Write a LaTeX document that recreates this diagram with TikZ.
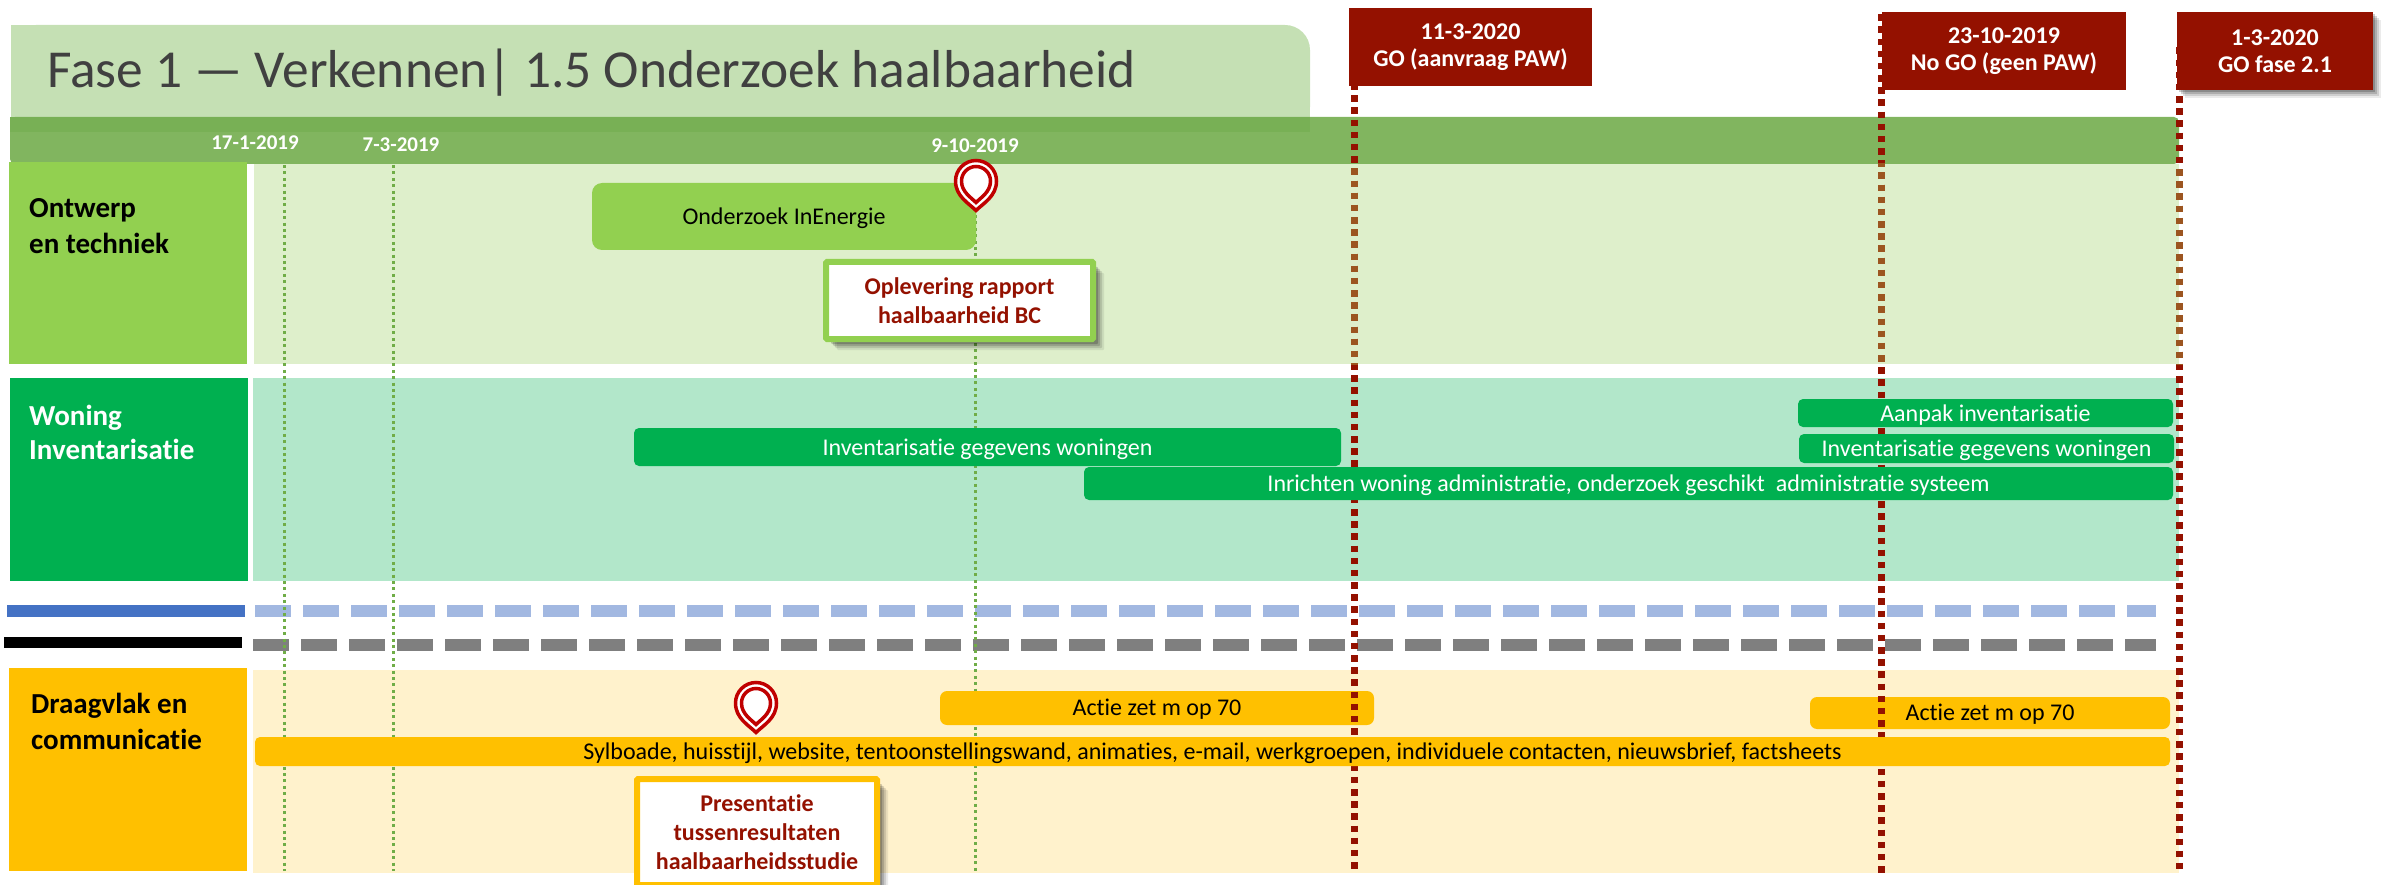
\documentclass[tikz,border=0pt]{standalone}
\usepackage{fontspec}
\setmainfont[Ligatures=NoCommon]{Carlito}
\usetikzlibrary{shadows}
\definecolor{titleband}{HTML}{C5E0B4}
\definecolor{darkband}{HTML}{81B55F}
\definecolor{overlapband}{HTML}{78B055}
\definecolor{lightgreen}{HTML}{DEEFCB}
\definecolor{midgreen}{HTML}{92D050}
\definecolor{lightteal}{HTML}{B2E7CA}
\definecolor{teal}{HTML}{00B050}
\definecolor{cream}{HTML}{FFF2CC}
\definecolor{amber}{HTML}{FFC000}
\definecolor{blueA}{HTML}{4472C4}
\definecolor{blueB}{HTML}{A2B8E1}
\definecolor{grayB}{HTML}{7F7F7F}
\definecolor{darkred}{HTML}{941100}
\definecolor{brownred}{HTML}{9C5520}
\definecolor{pinred}{HTML}{C00000}
\definecolor{dotgreen}{HTML}{70AD47}
\definecolor{titletext}{HTML}{404040}
\newcommand{\fs}[1]{\fontsize{#1}{#1}\selectfont}
% \rectnode{name}{x1}{y1}{x2}{y2}{style}{text}
\newcommand{\rectnode}[7]{%
  \pgfmathsetlengthmacro{\rw}{(#4)-(#2)}%
  \pgfmathsetlengthmacro{\rh}{(#5)-(#3)}%
  \node[#6,minimum width=\rw,minimum height=\rh,anchor=north west] (#1) at (#2,#3) {#7};}
% \pinpath{cx}{top}{r}{h}
\newcommand{\pinpath}[4]{%
  (#1,#2+#4) .. controls (#1-0.35*#3,#2+#4-0.35*#3) and (#1-#3,#2+1.75*#3) .. (#1-#3,#2+#3)
  .. controls (#1-#3,#2+0.45*#3) and (#1-0.55*#3,#2) .. (#1,#2)
  .. controls (#1+0.55*#3,#2) and (#1+#3,#2+0.45*#3) .. (#1+#3,#2+#3)
  .. controls (#1+#3,#2+1.75*#3) and (#1+0.35*#3,#2+#4-0.35*#3) .. (#1,#2+#4) -- cycle}
\newcommand{\pinmark}[2]{%
  \draw[pinout] \pinpath{#1}{#2+1.5}{20.5}{50};
  \draw[pinin] \pinpath{#1}{#2+7.5}{14.5}{36};}
\tikzset{
  plain/.style={rectangle,inner sep=0pt,outer sep=0pt,text=black},
  bar/.style={plain,rounded corners=5pt,align=center,text depth=-1.5pt},
  lbl/.style={font=\fs{29}\bfseries,anchor=base west,inner sep=0pt},
  datelbl/.style={font=\fs{21}\bfseries,text=white,inner sep=0pt},
  barfont/.style={font=\fs{24}},
  redbox/.style={plain,fill=darkred,text=white,align=center,font=\fs{24}\bfseries},
  notebox/.style={plain,fill=white,line width=6pt,text=darkred,align=center,
    font=\fs{24}\bfseries,rounded corners=1pt},
  softshadow/.style={
    drop shadow={shadow xshift=#1+6pt,shadow yshift=-#1-6pt,opacity=.08,fill=black},
    drop shadow={shadow xshift=#1+4pt,shadow yshift=-#1-4pt,opacity=.12,fill=black},
    drop shadow={shadow xshift=#1+2pt,shadow yshift=-#1-2pt,opacity=.16,fill=black},
    drop shadow={shadow xshift=#1,shadow yshift=-#1,opacity=.2,fill=black}},
  greendots/.style={draw=dotgreen,line width=3pt,dash pattern=on 3pt off 3.4pt},
  reddots/.style={draw=darkred,line width=7pt,dash pattern=on 6.5pt off 5.67pt},
  pinout/.style={draw=pinred,fill=white,line width=3.5pt,line join=miter},
  pinin/.style={draw=pinred,fill=white,line width=3.5pt,line join=miter},
}
\begin{document}
\begin{tikzpicture}[x=1pt,y=-1pt]
\useasboundingbox (0,0) rectangle (2389,885);
\clip (0,0) rectangle (2389,885);

% title and header
\fill[titleband,rounded corners=25pt] (11,25) -- (1310,25) -- (1310,132) -- (11,132) -- cycle;
\fill[titleband] (11,25) rectangle (60,132);
\fill[titleband] (1240,100) rectangle (1310,132);
\node[anchor=base west,inner sep=0pt,text=titletext,font=\fs{53.4}] (title) at (47,88)
  {Fase 1 — Verkennen| 1.5 Onderzoek haalbaarheid};
\fill[darkband,rounded corners=5pt] (10,117) -- (2179,117) -- (2179,164) -- (10,164) -- cycle;
\fill[overlapband] (10,117) rectangle (1310,132);

% section backgrounds
\fill[lightgreen] (254,164) rectangle (2179,364);
\fill[lightteal] (253,378) rectangle (2179,581);
\fill[cream] (253,670) rectangle (2179,873);

% section heads
\rectnode{ontwerp}{9}{162}{247}{364}{plain,fill=midgreen}{}
\rectnode{woning}{10}{378}{248}{581}{plain,fill=teal}{}
\rectnode{draag}{9}{668}{247}{871}{plain,fill=amber}{}
\node[lbl,text=black] (ontA) at (29,218) {Ontwerp};
\node[lbl,text=black] (ontB) at (29,254) {en techniek};
\node[lbl,text=white] (wonA) at (29,425) {Woning};
\node[lbl,text=white] (wonB) at (29,459) {Inventarisatie};
\node[lbl,text=black] (draA) at (31,713) {Draagvlak en};
\node[lbl,text=black] (draB) at (31,749) {communicatie};

% coloured rules
\rectnode{blueRule}{7}{605}{245}{617}{plain,fill=blueA}{}
\rectnode{blackRule}{4}{637}{242}{648}{plain,fill=black}{}
\foreach \i in {0,...,39}{
  \pgfmathsetmacro{\xa}{255+48*\i}
  \pgfmathsetmacro{\xb}{min(\xa+36,2156)}
  \fill[blueB] (\xa,605) rectangle (\xb,617);
  \pgfmathsetmacro{\xc}{253+48*\i}
  \pgfmathsetmacro{\xd}{min(\xc+36,2156)}
  \fill[grayB] (\xc,639) rectangle (\xd,651);
}

% date labels
\node[datelbl] (d1) at (255,143) {17-1-2019};
\node[datelbl] (d2) at (401,145) {7-3-2019};
\node[datelbl] (d3) at (975,146) {9-10-2019};

% green dotted lines
\coordinate (g1t) at (284,165); \coordinate (g1b) at (284,871);
\coordinate (g2t) at (393,165); \coordinate (g2b) at (393,871);
\coordinate (g3t) at (975,183); \coordinate (g3b) at (975,871);
\draw[greendots] (g1t) -- (g1b);
\draw[greendots] (g2t) -- (g2b);
\draw[greendots] (g3t) -- (g3b);

% amber bars below the red lines
\rectnode{barActieL}{940}{691}{1374}{725}{bar,fill=amber,rounded corners=7pt}{}
\rectnode{barActieR}{1810}{697}{2170}{729}{bar,fill=amber,rounded corners=7pt}{}

% red dotted lines
\coordinate (r1t) at (1354,83.15); \coordinate (r1b) at (1354,869);
\coordinate (r2t) at (1881,14.25); \coordinate (r2b) at (1881,873);
\coordinate (r3t) at (2179,47.45); \coordinate (r3b) at (2179,870);
\draw[reddots] (r1t) -- (r1b);
\draw[reddots] (r2t) -- (r2b);
\draw[reddots] (r3t) -- (r3b);
\begin{scope}
  \clip (1300,164) rectangle (2200,364);
  \draw[reddots,draw=brownred] (r1t) -- (r1b);
  \draw[reddots,draw=brownred] (r2t) -- (r2b);
  \draw[reddots,draw=brownred] (r3t) -- (r3b);
\end{scope}
\node[barfont] (tActieL) at (1157,709) {Actie zet m op 70};
\node[barfont] (tActieR) at (1990,714) {Actie zet m op 70};

% red boxes
\rectnode{go1}{1349}{8}{1592}{86}{redbox}{11-3-2020\\[3pt]GO (aanvraag PAW)}
\rectnode{go2}{1882}{12}{2126}{90}{redbox}{23-10-2019\\[3pt]No GO (geen PAW)}
\rectnode{go3}{2177}{12}{2373}{90}{redbox,softshadow=2pt}{1-3-2020\\[3pt]GO fase 2.1}

% bars
\rectnode{barOnd}{592}{183}{976}{250}{bar,fill=midgreen,font=\fs{24},rounded corners=10pt}{Onderzoek InEnergie}
\rectnode{barAanpak}{1798}{399}{2173}{427}{bar,fill=teal,text=white,font=\fs{24}}{Aanpak inventarisatie}
\rectnode{barInvR}{1799}{434}{2174}{463}{bar,fill=teal,text=white,font=\fs{24}}{Inventarisatie gegevens woningen}
\rectnode{barInvL}{634}{428}{1341}{466}{bar,fill=teal,text=white,font=\fs{24}}{Inventarisatie gegevens woningen}
\rectnode{barInr}{1084}{467}{2173}{500}{bar,fill=teal,text=white,font=\fs{24}}{Inrichten woning administratie, onderzoek geschikt\ \ administratie systeem}
\rectnode{barSyl}{255}{737}{2170}{766}{bar,fill=amber,font=\fs{24}}{Sylboade, huisstijl, website, tentoonstellingswand, animaties, e-mail, werkgroepen, individuele contacten, nieuwsbrief, factsheets}

% pins
\pinmark{976}{159}
\pinmark{756}{681}

% note boxes
\rectnode{note1}{826}{262}{1093}{339}{notebox,draw=midgreen,softshadow=5pt}{Oplevering rapport\\[5pt]haalbaarheid BC}
\rectnode{note2}{637}{779}{877}{885}{notebox,draw=amber,softshadow=5pt}{Presentatie\\[5pt]tussenresultaten\\[5pt]haalbaarheidsstudie}
\end{tikzpicture}
\end{document}
